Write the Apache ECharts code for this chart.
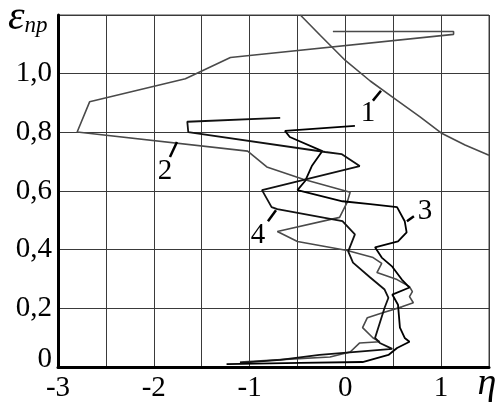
<!DOCTYPE html>
<html><head><meta charset="utf-8">
<script src="https://cdn.jsdelivr.net/npm/echarts@6/dist/echarts.min.js"></script>
<style>html,body{margin:0;padding:0;background:#fff}#c{width:498px;height:408px}</style>
</head><body><div id="c"></div>
<script>
// Tick labels
const xTickLabels = ['-3', '-2', '-1', '0', '1'];
const yTickLabels = ['0', '0,2', '0,4', '0,6', '0,8', '1,0'];

// Curve 1 (smooth boundary)
const curve1 = [[-0.47,1.20],[-0.26,1.13],[0.0,1.045],[0.26,0.975],[0.5,0.918],[0.78,0.853],[1.0,0.798],[1.25,0.757],[1.5,0.722]];

// Curve 2 (grey, large loop then zigzag down)
const curve2 = [[-0.13,1.144],[1.13,1.144],[1.13,1.134],[-1.0,1.062],[-1.2,1.055],[-1.67,0.983],[-2.67,0.904],[-2.80,0.801],
  [-1.02,0.736],[-0.82,0.682],[-0.44,0.640],[0.05,0.596],[0.02,0.562],[-0.06,0.510],[-0.71,0.462],[-0.50,0.428],
  [0.02,0.397],[0.29,0.373],[0.38,0.353],[0.33,0.322],[0.54,0.298],[0.67,0.274],[0.70,0.257],[0.67,0.240],[0.71,0.219],
  [0.59,0.205],[0.39,0.185],[0.23,0.168],[0.18,0.134],[0.29,0.099],[0.36,0.086],[0.15,0.082],[0.05,0.051],[-0.16,0.034],
  [-0.58,0.027],[-1.10,0.017]];

// Curve 3 (black)
const curve3 = [[0.10,0.822],[-0.63,0.805],[-0.58,0.784],[-0.24,0.736],[-0.35,0.685],[-0.42,0.634],[-0.50,0.603],
  [-0.03,0.565],[0.26,0.555],[0.54,0.545],[0.62,0.497],[0.64,0.459],[0.55,0.428],[0.31,0.408],[0.38,0.373],[0.49,0.342],
  [0.59,0.298],[0.67,0.271],[0.49,0.247],[0.55,0.212],[0.57,0.134],[0.62,0.099],[0.67,0.086],[0.54,0.065],[0.45,0.041],
  [0.18,0.017],[-0.47,0.014],[-1.24,0.010]];

// Curve 4 (black)
const curve4 = [[-0.68,0.849],[-1.65,0.836],[-1.64,0.801],[-0.21,0.733],[-0.04,0.726],[0.15,0.685],[-0.87,0.603],
  [-0.77,0.545],[-0.71,0.538],[-0.03,0.497],[0.10,0.452],[0.03,0.394],[0.08,0.356],[0.26,0.305],[0.41,0.264],
  [0.45,0.236],[0.41,0.202],[0.31,0.099],[0.36,0.082],[0.49,0.062],[-0.27,0.041],[-0.68,0.024],[-1.10,0.014]];

// Curve number annotations (data coordinates)
const annotations = [
  {text:'1', at:[0.236,0.863], lead:[[0.288,0.908],[0.372,0.942]]},
  {text:'2', at:[-1.883,0.668], lead:[[-1.831,0.716],[-1.758,0.767]]},
  {text:'3', at:[0.831,0.531], lead:[[0.716,0.514],[0.643,0.497]]},
  {text:'4', at:[-0.912,0.449], lead:[[-0.808,0.497],[-0.724,0.534]]}
];

const SERIF = '"Liberation Serif","Times New Roman","DejaVu Serif",serif';
const chart = echarts.init(document.getElementById('c'), null, {renderer:'canvas'});

function lineSeries(data, color, width){
  return {type:'line', data:data, symbol:'none', smooth:false, animation:false,
    lineStyle:{color:color, width:width}, z:3};
}

chart.setOption({
  animation:false,
  backgroundColor:'#fff',
  grid:{left:58, right:9, top:15, bottom:41, show:true, borderColor:'#444', borderWidth:1},
  xAxis:{type:'value', min:-3, max:1.5, interval:0.5,
    axisLine:{show:true, lineStyle:{color:'#000', width:3}, onZero:false},
    axisTick:{show:false},
    splitLine:{show:true, lineStyle:{color:'#3a3a3a', width:1}},
    axisLabel:{margin:7, fontFamily:SERIF, fontSize:29, color:'#000',
      formatter:function(v){ const i = Math.round(v)+3; return (Math.abs(v-Math.round(v))<1e-6 && xTickLabels[i]!==undefined) ? xTickLabels[i] : ''; }}
  },
  yAxis:{type:'value', min:0, max:1.2, interval:0.2,
    axisLine:{show:true, lineStyle:{color:'#000', width:3}, onZero:false},
    axisTick:{show:false},
    splitLine:{show:true, lineStyle:{color:'#3a3a3a', width:1}},
    axisLabel:{margin:6, fontFamily:SERIF, fontSize:29, color:'#000',
      formatter:function(v){ const i = Math.round(v/0.2); if (i===0) return '{z|'+yTickLabels[0]+'}'; return yTickLabels[i]!==undefined ? yTickLabels[i] : ''; },
      rich:{z:{fontFamily:SERIF, fontSize:29, color:'#000', padding:[0,0,16,0]}}}
  },
  series:[
    lineSeries(curve1, '#4a4a4a', 1.6),
    lineSeries(curve2, '#4a4a4a', 1.6),
    lineSeries(curve3, '#000', 1.8),
    lineSeries(curve4, '#111', 1.8)
  ]
});

const g = [];
annotations.forEach(function(a){
  const p = chart.convertToPixel({gridIndex:0}, a.at);
  g.push({type:'text', x:p[0], y:p[1], z:10, style:{text:a.text, font:'29px '+SERIF, fill:'#000', align:'center', verticalAlign:'middle'}});
  const p1 = chart.convertToPixel({gridIndex:0}, a.lead[0]);
  const p2 = chart.convertToPixel({gridIndex:0}, a.lead[1]);
  g.push({type:'line', z:10, shape:{x1:p1[0], y1:p1[1], x2:p2[0], y2:p2[1]}, style:{stroke:'#000', lineWidth:2.5}});
});
g.push({type:'text', x:8, y:18, z:10, style:{text:'{a|ε}{b|np}', verticalAlign:'middle',
  rich:{a:{fontFamily:SERIF, fontStyle:'italic', fontSize:42, fill:'#000', color:'#000'},
        b:{fontFamily:SERIF, fontStyle:'italic', fontSize:23, fill:'#000', color:'#000', padding:[16,0,0,0]}}}});
g.push({type:'text', x:487, y:384, z:10, style:{text:'η', font:'italic 38px '+SERIF, fill:'#000', align:'center', verticalAlign:'middle'}});
chart.setOption({graphic:g});
</script></body></html>
